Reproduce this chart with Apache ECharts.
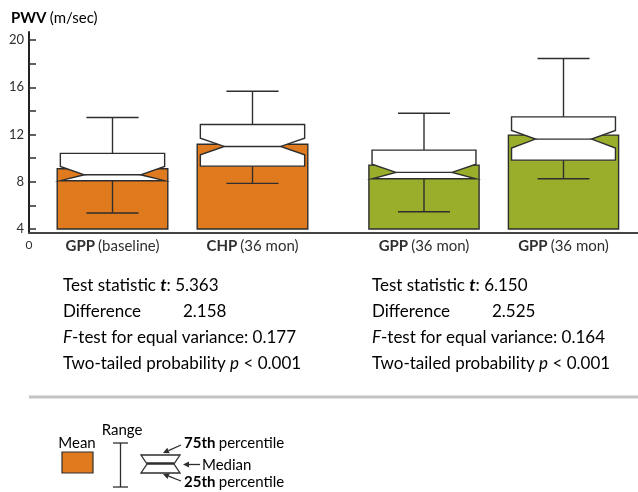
<!DOCTYPE html>
<html><head><meta charset="utf-8">
<script src="https://cdn.jsdelivr.net/npm/echarts@6/dist/echarts.min.js"></script>
<style>html,body{margin:0;padding:0;background:#fff}#c{width:638px;height:492px}</style>
</head><body><div id="c"></div>
<script>
// ---- data ----
const groupBold = ['GPP', 'CHP', 'GPP', 'GPP'];
const groupSub = ['(baseline)', '(36 mon)', '(36 mon)', '(36 mon)'];
const meanValues = [9.10, 11.18, 9.41, 11.95];
const whiskerLow = [5.35, 7.86, 5.46, 8.25];
const q1Values = [8.09, 9.32, 8.25, 9.83];
const notchLow = [8.09, 10.28, 8.25, 10.85];
const medianValues = [8.59, 10.99, 8.79, 11.61];
const notchHigh = [9.30, 11.69, 9.49, 12.34];
const q3Values = [10.40, 12.85, 10.68, 13.49];
const whiskerHigh = [13.44, 15.66, 13.80, 18.43];
const outlierPoints = [[1, 17.95]]; // [group index, value]
const yMin = 4, yMax = 20, yStep = 4;
const statLabels = ['Test statistic', 'Difference', 'F-test for equal variance:', 'Two-tailed probability'];
const leftStats = ['5.363', '2.158', '0.177', '< 0.001'];
const rightStats = ['6.150', '2.525', '0.164', '< 0.001'];

const ORANGE = '#DF7A1F', GREEN = '#9BAE2C', INK = '#2e2e2e', TXT = '#2f2f2f';
const FONT = 'Lato';
const groupColors = [ORANGE, ORANGE, GREEN, GREEN];

function itemsFor(indices) {
  return indices.map((g, k) => [k, meanValues[g], q1Values[g], medianValues[g], q3Values[g],
    whiskerLow[g], whiskerHigh[g], notchLow[g], notchHigh[g], g]);
}

function renderBox(params, api) {
  const x = api.value(0);
  const g = api.value(9);
  const y = v => api.coord([x, v])[1];
  const cx = api.coord([x, yMin])[0];
  const band = api.size([1, 0])[0];
  const barW = band * 0.79, boxW = band * 0.745, notch = boxW * 0.23, capW = boxW * 0.5;
  const L = cx - boxW / 2, R = cx + boxW / 2;
  const mean = api.value(1), q1 = api.value(2), med = api.value(3), q3 = api.value(4);
  const lo = api.value(5), hi = api.value(6), nLo = Math.max(api.value(7), q1), nHi = Math.min(api.value(8), q3);
  const stroke = { stroke: INK, lineWidth: 1.4 };
  const baseY = y(yMin), topY = y(mean);
  return {
    type: 'group',
    children: [
      { type: 'rect', shape: { x: cx - barW / 2, y: topY, width: barW, height: baseY - topY },
        style: Object.assign({ fill: groupColors[g] }, stroke) },
      { type: 'line', shape: { x1: cx, y1: y(q1), x2: cx, y2: y(lo) }, style: stroke },
      { type: 'line', shape: { x1: cx - capW / 2, y1: y(lo), x2: cx + capW / 2, y2: y(lo) }, style: stroke },
      { type: 'line', shape: { x1: cx, y1: y(q3), x2: cx, y2: y(hi) }, style: stroke },
      { type: 'line', shape: { x1: cx - capW / 2, y1: y(hi), x2: cx + capW / 2, y2: y(hi) }, style: stroke },
      { type: 'polygon', shape: { points: [
          [L, y(q3)], [R, y(q3)], [R, y(nHi)], [R - notch, y(med)], [R, y(nLo)], [R, y(q1)],
          [L, y(q1)], [L, y(nLo)], [L + notch, y(med)], [L, y(nHi)]] },
        style: Object.assign({ fill: '#fff' }, stroke) },
      { type: 'line', shape: { x1: L + notch, y1: y(med), x2: R - notch, y2: y(med) }, style: stroke }
    ]
  };
}

const labelRich = {
  b: { fontFamily: FONT, fontWeight: 'bold', fontSize: 15, color: TXT },
  r: { fontFamily: FONT, fontSize: 15, color: TXT }
};
function catAxis(gridIndex, indices) {
  return {
    type: 'category', gridIndex, data: indices.map(g => groupBold[g] + '|' + groupSub[g]),
    axisLine: { show: false }, axisTick: { show: false }, splitLine: { show: false },
    axisLabel: { margin: 10, interval: 0, rich: labelRich,
      formatter: v => { const p = v.split('|'); return '{b|' + p[0] + '} {r|' + p[1] + '}'; } }
  };
}
function hiddenValueY(gridIndex) {
  return { type: 'value', gridIndex, min: yMin, max: yMax, show: false };
}

// ---- legend / text graphics ----
function arrow(x1, y1, x2, y2) {
  const a = Math.atan2(y2 - y1, x2 - x1), len = 6, w = 3;
  const bx = x2 - len * Math.cos(a), by = y2 - len * Math.sin(a);
  const px = -Math.sin(a) * w, py = Math.cos(a) * w;
  return [
    { type: 'line', shape: { x1, y1, x2: bx, y2: by }, style: { stroke: INK, lineWidth: 1.3 } },
    { type: 'polygon', shape: { points: [[x2, y2], [bx + px, by + py], [bx - px, by - py]] }, style: { fill: INK } }
  ];
}
const SF = 17;
const statRich = {
  n: { fontFamily: FONT, fontSize: SF, color: TXT },
  i: { fontFamily: FONT, fontSize: SF, fontStyle: 'italic', color: TXT },
  bi: { fontFamily: FONT, fontSize: SF, fontStyle: 'italic', fontWeight: 'bold', color: TXT }
};
function statBlock(x, vals) {
  const lines = [
    '{n|' + statLabels[0] + ' }{bi|t}{n|: ' + vals[0] + '}',
    '{n|' + statLabels[1] + '}',
    '{i|F}{n|' + statLabels[2].slice(1) + ' ' + vals[2] + '}',
    '{n|' + statLabels[3] + ' }{i|p}{n| ' + vals[3] + '}'
  ];
  const ys = [286, 312, 338, 364];
  const out = lines.map((t, k) => ({ type: 'text', x, y: ys[k],
    style: { text: t, rich: statRich, verticalAlign: 'middle', align: 'left' } }));
  out.push({ type: 'text', x: x + 120, y: ys[1], style: { text: '{n|' + vals[1] + '}', rich: statRich, verticalAlign: 'middle' } });
  return out;
}
const legendRich = labelRich;

const graphics = [].concat(
  [{ type: 'text', x: 11, y: 18, style: { text: '{b|PWV} {r|(m/sec)}', rich: labelRich, verticalAlign: 'middle' } },
   { type: 'text', x: 29, y: 245, style: { text: '0', font: '12px ' + FONT, fill: TXT, align: 'center', verticalAlign: 'middle' } },
   { type: 'line', shape: { x1: 29, y1: 397, x2: 638, y2: 397 }, style: { stroke: '#c3c3c3', lineWidth: 3 } }],
  statBlock(63, leftStats),
  statBlock(372, rightStats),
  [
    { type: 'text', x: 77, y: 443, style: { text: '{r|Mean}', rich: legendRich, align: 'center', verticalAlign: 'middle' } },
    { type: 'rect', shape: { x: 62, y: 452, width: 31, height: 21 }, style: { fill: ORANGE, stroke: INK, lineWidth: 1.2 } },
    { type: 'text', x: 122, y: 430, style: { text: '{r|Range}', rich: legendRich, align: 'center', verticalAlign: 'middle' } },
    { type: 'line', shape: { x1: 120.5, y1: 443, x2: 120.5, y2: 487 }, style: { stroke: INK, lineWidth: 1.3 } },
    { type: 'line', shape: { x1: 113, y1: 443, x2: 128, y2: 443 }, style: { stroke: INK, lineWidth: 1.3 } },
    { type: 'line', shape: { x1: 113, y1: 487, x2: 128, y2: 487 }, style: { stroke: INK, lineWidth: 1.3 } },
    { type: 'polygon', shape: { points: [[141, 455], [180, 455], [174, 464], [180, 473], [141, 473], [147, 464]] },
      style: { fill: '#fff', stroke: INK, lineWidth: 1.3 } },
    { type: 'line', shape: { x1: 147, y1: 463.5, x2: 174, y2: 463.5 }, style: { stroke: INK, lineWidth: 2.5 } },
    { type: 'text', x: 184, y: 443, style: { text: '{b|75th} {r|percentile}', rich: legendRich, verticalAlign: 'middle' } },
    { type: 'text', x: 202, y: 465, style: { text: '{r|Median}', rich: legendRich, verticalAlign: 'middle' } },
    { type: 'text', x: 184, y: 482, style: { text: '{b|25th} {r|percentile}', rich: legendRich, verticalAlign: 'middle' } }
  ],
  arrow(181, 445, 163, 453),
  arrow(200, 464.5, 183, 464.5),
  arrow(181, 481, 163, 474)
);

const chart = echarts.init(document.getElementById('c'), null, { renderer: 'canvas' });
chart.setOption({
  animation: false,
  backgroundColor: '#fff',
  textStyle: { fontFamily: FONT },
  grid: [
    { left: 29, top: 40, width: 10, height: 189 },
    { left: 29, right: 0, top: 32, height: 201 },
    { left: 42.5, width: 280, top: 40, height: 189 },
    { left: 354.25, width: 279, top: 40, height: 189 }
  ],
  xAxis: [
    { type: 'value', gridIndex: 0, show: false },
    { type: 'value', gridIndex: 1, min: 0, max: 1, axisLine: { show: true, lineStyle: { color: '#444', width: 2 } },
      axisTick: { show: false }, axisLabel: { show: false }, splitLine: { show: false } },
    catAxis(2, [0, 1]),
    catAxis(3, [2, 3])
  ],
  yAxis: [
    { type: 'value', gridIndex: 0, min: yMin, max: yMax, interval: yStep,
      axisLine: { show: false }, splitLine: { show: false },
      axisTick: { show: true, inside: true, length: 7, lineStyle: { color: INK, width: 1.5 } },
      minorTick: { show: true, splitNumber: 2, length: 7, lineStyle: { color: INK, width: 1.5 } },
      minorSplitLine: { show: false },
      axisLabel: { margin: 5, color: TXT, fontSize: 13, fontFamily: FONT } },
    { type: 'value', gridIndex: 1, min: 0, max: 1, axisLine: { show: true, lineStyle: { color: '#222', width: 2 } },
      axisTick: { show: false }, axisLabel: { show: false }, splitLine: { show: false } },
    hiddenValueY(2),
    hiddenValueY(3)
  ],
  series: [
    { type: 'custom', xAxisIndex: 2, yAxisIndex: 2, renderItem: renderBox, data: itemsFor([0, 1]) },
    { type: 'custom', xAxisIndex: 3, yAxisIndex: 3, renderItem: renderBox, data: itemsFor([2, 3]) },
    { type: 'scatter', xAxisIndex: 2, yAxisIndex: 2, symbol: 'emptyCircle', symbolSize: 6,
      itemStyle: { color: '#fff', borderColor: INK, borderWidth: 1.3 }, data: outlierPoints }
  ],
  graphic: graphics
});
</script>
</body></html>
